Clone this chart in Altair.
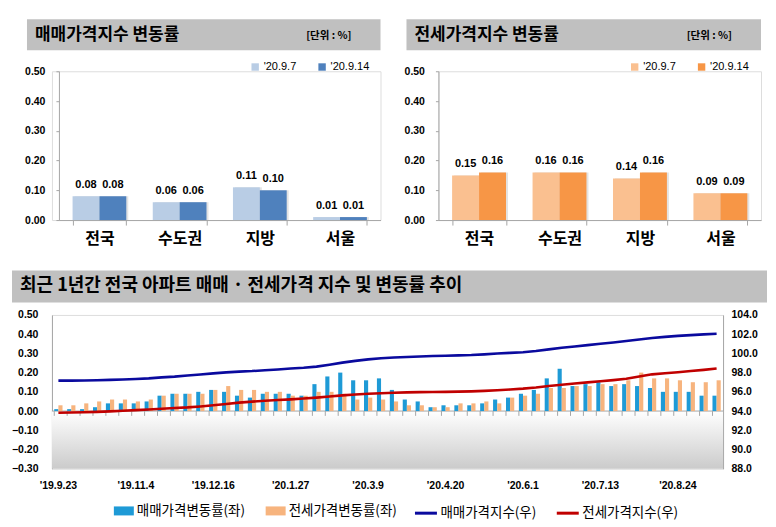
import altair as alt
import pandas as pd

# ---------------- data ----------------
REGIONS = ["전국", "수도권", "지방", "서울"]
WEEKS = ["'20.9.7", "'20.9.14"]
SALE_PREV = [0.08, 0.06, 0.11, 0.01]
SALE_CURR = [0.08, 0.06, 0.10, 0.01]
JEONSE_PREV = [0.15, 0.16, 0.14, 0.09]
JEONSE_CURR = [0.16, 0.16, 0.16, 0.09]

DATES = ["'19.9.23", "'19.9.30", "'19.10.7", "'19.10.14", "'19.10.21", "'19.10.28",
         "'19.11.4", "'19.11.11", "'19.11.18", "'19.11.25", "'19.12.2", "'19.12.9",
         "'19.12.16", "'19.12.23", "'19.12.30", "'20.1.6", "'20.1.13", "'20.1.20",
         "'20.1.27", "'20.2.3", "'20.2.10", "'20.2.17", "'20.2.24", "'20.3.2",
         "'20.3.9", "'20.3.16", "'20.3.23", "'20.3.30", "'20.4.6", "'20.4.13",
         "'20.4.20", "'20.4.27", "'20.5.4", "'20.5.11", "'20.5.18", "'20.5.25",
         "'20.6.1", "'20.6.8", "'20.6.15", "'20.6.22", "'20.6.29", "'20.7.6",
         "'20.7.13", "'20.7.20", "'20.7.27", "'20.8.3", "'20.8.10", "'20.8.17",
         "'20.8.24", "'20.8.31", "'20.9.7", "'20.9.14"]
TICK_DATES = ["'19.9.23", "'19.11.4", "'19.12.16", "'20.1.27", "'20.3.9",
              "'20.4.20", "'20.6.1", "'20.7.13", "'20.8.24"]

SALE_CHG = [0.01, 0.01, 0.01, 0.02, 0.04, 0.04, 0.04, 0.05, 0.08, 0.09,
            0.09, 0.10, 0.11, 0.10, 0.08, 0.07, 0.09, 0.09, 0.09, 0.08,
            0.14, 0.18, 0.20, 0.16, 0.16, 0.17, 0.11, 0.06, 0.05, 0.02,
            0.03, 0.03, 0.03, 0.04, 0.06, 0.07, 0.09, 0.11, 0.17, 0.22,
            0.13, 0.14, 0.15, 0.13, 0.14, 0.13, 0.12, 0.10, 0.10, 0.10,
            0.08, 0.08]
JEONSE_CHG = [0.03, 0.03, 0.04, 0.05, 0.06, 0.06, 0.05, 0.06, 0.08, 0.09,
              0.09, 0.09, 0.11, 0.13, 0.11, 0.11, 0.10, 0.10, 0.08, 0.08,
              0.10, 0.10, 0.09, 0.06, 0.07, 0.06, 0.05, 0.03, 0.03, 0.02,
              0.02, 0.04, 0.04, 0.05, 0.04, 0.07, 0.08, 0.09, 0.12, 0.12,
              0.13, 0.13, 0.14, 0.14, 0.16, 0.20, 0.17, 0.17, 0.16, 0.15,
              0.15, 0.16]
SALE_IDX = [97.17, 97.17, 97.18, 97.20, 97.24, 97.28, 97.33, 97.40, 97.50, 97.58,
            97.70, 97.80, 97.92, 98.02, 98.10, 98.16, 98.25, 98.33, 98.42, 98.50,
            98.62, 98.82, 99.04, 99.22, 99.38, 99.50, 99.57, 99.62, 99.68, 99.72,
            99.76, 99.79, 99.83, 99.90, 99.98, 100.05, 100.12, 100.24, 100.42, 100.58,
            100.72, 100.86, 101.00, 101.13, 101.28, 101.44, 101.60, 101.72, 101.82, 101.90,
            101.98, 102.05]
JEONSE_IDX = [93.83, 93.85, 93.87, 93.91, 93.97, 94.03, 94.10, 94.17, 94.24, 94.31,
              94.38, 94.48, 94.60, 94.74, 94.88, 94.98, 95.08, 95.15, 95.22, 95.30,
              95.40, 95.52, 95.63, 95.72, 95.80, 95.86, 95.90, 95.94, 95.97, 95.99,
              96.00, 96.02, 96.05, 96.10, 96.16, 96.24, 96.33, 96.45, 96.60, 96.73,
              96.86, 96.98, 97.10, 97.22, 97.36, 97.60, 97.82, 97.94, 98.04, 98.16,
              98.28, 98.42]

BAR_SERIES = ["매매가격변동률(좌)", "전세가격변동률(좌)"]
LINE_SERIES = ["매매가격지수(우)", "전세가격지수(우)"]

TITLE_SALE = "매매가격지수 변동률"
TITLE_JEONSE = "전세가격지수 변동률"
TITLE_TREND = "최근 1년간 전국 아파트 매매 · 전세가격 지수 및 변동률 추이"
UNIT = "[단위 : %]"

# ---------------- style ----------------
KR = "Noto Sans CJK KR"
NUM = "Liberation Sans"
GRAY = "#A6A6A6"
BOXGRAY = "#C0C0C0"
ONE = pd.DataFrame({"a": [0]})


def box_layers(x0, x1, y0, y1, text, size, unit=None, unit_x=None):
    layers = [
        alt.Chart(ONE).mark_rect(color=BOXGRAY).encode(
            x=alt.value(x0), x2=alt.value(x1), y=alt.value(y0), y2=alt.value(y1)),
        alt.Chart(pd.DataFrame({"t": [text]})).mark_text(
            align="left", baseline="middle", font=KR, fontSize=size, fontWeight="bold",
            color="#000").encode(x=alt.value(x0 + 8), y=alt.value((y0 + y1) / 2), text="t:N"),
    ]
    if unit:
        layers.append(alt.Chart(pd.DataFrame({"t": [unit]})).mark_text(
            align="right", baseline="middle", font=KR, fontSize=10.5, fontWeight="bold",
            color="#000").encode(x=alt.value(unit_x), y=alt.value((y0 + y1) / 2 + 1), text="t:N"))
    return layers


def top_panel(prev, curr, colors, title, width, inset=0):
    """inset: empty strip (px) left of the y axis inside the view."""
    df = pd.DataFrame({"region": REGIONS * 2,
                       "week": [WEEKS[0]] * 4 + [WEEKS[1]] * 4,
                       "value": prev + curr})
    pin, pout = 0.33, 0.17
    span = width - inset
    step = span / (len(REGIONS) - pin + 2 * pout)
    half = step * (1 - pin) / 2           # pixel width of one bar of the pair
    x = alt.X("region:N", sort=REGIONS,
              scale=alt.Scale(domain=REGIONS, range=[inset, width],
                              paddingInner=pin, paddingOuter=pout),
              axis=alt.Axis(title=None, labelAngle=0, labelFont=KR, labelFontSize=16,
                            labelFontWeight="bold", labelColor="#000", labelPadding=5,
                            domainColor=GRAY, tickColor=GRAY, tickSize=5, tickBand="extent"))
    y = alt.Y("value:Q", scale=alt.Scale(domain=[0, 0.5], nice=False),
              axis=alt.Axis(values=[0, 0.1, 0.2, 0.3, 0.4, 0.5], format=".2f", title=None,
                            grid=False, labelFont=NUM, labelFontSize=10.5, offset=-inset,
                            labelFontWeight="bold", labelColor="#000", domainColor=GRAY,
                            tickColor=GRAY, tickSize=3, labelPadding=11))
    color = alt.Color("week:N", sort=WEEKS, scale=alt.Scale(domain=WEEKS, range=colors),
                      legend=alt.Legend(title=None, orient="none", legendX=191 + inset,
                                        legendY=-10, direction="horizontal",
                                        symbolType="square", symbolSize=55,
                                        symbolStrokeWidth=0, labelFont=NUM, labelFontSize=11,
                                        labelColor="#000", labelOffset=3, columnPadding=20))
    layers = box_layers(inset - 32, width, -52, -21, title, 17, UNIT, width - 29)
    for wk, sign in zip(WEEKS, (-1, 1)):
        sub = alt.Chart(df).transform_filter(alt.datum.week == wk)
        layers.append(sub.mark_bar(width=half, xOffset=sign * half / 2 + 2, color="#7F7F7F",
                                   opacity=0.22).encode(x=x, y=y))
    for wk, sign in zip(WEEKS, (-1, 1)):
        sub = alt.Chart(df).transform_filter(alt.datum.week == wk)
        layers.append(sub.mark_bar(width=half, xOffset=sign * half / 2).encode(
            x=x, y=y, color=color))
        layers.append(sub.mark_text(baseline="bottom", dy=-6, dx=sign * half / 2, font=NUM,
                                    fontSize=11, fontWeight="bold", color="#000").encode(
            x=x, y=y, text=alt.Text("value:Q", format=".2f")))
    return alt.layer(*layers).properties(width=width, height=149)


def bottom_panel():
    W, H = 672, 154
    pin, pout = 0.36, 0.18
    step = W / (len(DATES) - pin + 2 * pout)
    half = step * (1 - pin) / 2
    bdf = pd.DataFrame({"date": DATES * 2,
                        "series": [BAR_SERIES[0]] * len(DATES) + [BAR_SERIES[1]] * len(DATES),
                        "value": SALE_CHG + JEONSE_CHG})
    ldf = pd.DataFrame({"date": DATES * 2,
                        "series": [LINE_SERIES[0]] * len(DATES) + [LINE_SERIES[1]] * len(DATES),
                        "value": SALE_IDX + JEONSE_IDX})
    ddf = pd.DataFrame({"date": DATES})

    def xscale():
        return alt.Scale(domain=DATES, paddingInner=pin, paddingOuter=pout)

    def yscale():
        return alt.Scale(domain=[-0.3, 0.5], nice=False)

    xaxis = alt.Axis(values=TICK_DATES, title=None, labelAngle=0, ticks=False,
                     domain=False, labelFont=NUM, labelFontSize=10.5,
                     labelFontWeight="bold", labelColor="#000", labelPadding=12)
    yaxis = alt.Axis(values=[-0.3, -0.2, -0.1, 0, 0.1, 0.2, 0.3, 0.4, 0.5],
                     format=".2f", title=None, grid=False, ticks=False,
                     labelFont=NUM, labelFontSize=10.5, labelFontWeight="bold",
                     labelColor="#000", domainColor=GRAY, labelPadding=14)

    grad = alt.Gradient(gradient="linear",
                        stops=[alt.GradientStop(color="#FFFFFF", offset=0),
                               alt.GradientStop(color="#CBCBCB", offset=1)],
                        x1=0, x2=0, y1=0, y2=1)
    bg = alt.Chart(ONE).mark_rect(fill=grad).encode(
        x=alt.value(0), x2=alt.value(W),
        y=alt.Y(datum=0, scale=yscale(), axis=None), y2=alt.Y2(datum=-0.3))

    zero = alt.Chart(ONE).mark_rule(color=GRAY, strokeWidth=1).encode(
        x=alt.value(0), x2=alt.value(W),
        y=alt.Y(datum=0, scale=yscale(), axis=None))

    ticks = alt.Chart(ddf).mark_rule(color=GRAY, strokeWidth=1).encode(
        x=alt.X("date:N", sort=DATES, scale=xscale(), bandPosition=0, axis=xaxis),
        y=alt.Y(datum=0, scale=yscale(), axis=None), y2=alt.Y2(datum=-0.025))

    color_b = alt.Color("series:N", sort=BAR_SERIES,
                        scale=alt.Scale(domain=BAR_SERIES, range=["#1E9AD6", "#F7B47E"]),
                        legend=alt.Legend(title=None, orient="none", legendX=62, legendY=186,
                                          direction="horizontal",
                                          symbolType="M-1,-0.45H1V0.45H-1Z", symbolSize=400,
                                          symbolStrokeWidth=0, labelFont=KR,
                                          labelFontSize=13.5, labelColor="#000",
                                          labelOffset=3, columnPadding=20))
    bar_layers = []
    for s, sign in zip(BAR_SERIES, (-1, 1)):
        bar_layers.append(alt.Chart(bdf).transform_filter(alt.datum.series == s)
                          .mark_bar(width=half, xOffset=sign * half / 2).encode(
            x=alt.X("date:N", sort=DATES, scale=xscale(), axis=xaxis),
            y=alt.Y("value:Q", scale=yscale(), axis=yaxis),
            color=color_b))
    bars = alt.layer(*bar_layers)

    lines = alt.Chart(ldf).mark_line(strokeWidth=2.6).encode(
        x=alt.X("date:N", sort=DATES, scale=xscale(), axis=xaxis),
        y=alt.Y("value:Q", scale=alt.Scale(domain=[88, 104], nice=False),
                axis=alt.Axis(orient="right", values=[88, 90, 92, 94, 96, 98, 100, 102, 104],
                              format=".1f", title=None, grid=False, ticks=False,
                              labelFont=NUM, labelFontSize=10.5, labelFontWeight="bold",
                              labelColor="#000", domainColor=GRAY, labelPadding=8)),
        color=alt.Color("series:N", sort=LINE_SERIES,
                        scale=alt.Scale(domain=LINE_SERIES, range=["#0A0A9E", "#C00000"]),
                        legend=alt.Legend(title=None, orient="none", legendX=362, legendY=186,
                                          direction="horizontal", symbolType="stroke",
                                          symbolSize=484, symbolStrokeWidth=3,
                                          labelFont=KR, labelFontSize=13.5, labelColor="#000",
                                          labelOffset=2, columnPadding=13)))

    layers = box_layers(-40, 716, -44.5, -12.5, TITLE_TREND, 18)
    return alt.layer(*layers, bg, zero, ticks, bars, lines).resolve_scale(
        y="independent", color="independent").properties(width=W, height=H)


left = top_panel(SALE_PREV, SALE_CURR, ["#B9CDE5", "#4F81BD"], TITLE_SALE, 329, inset=7)
right = top_panel(JEONSE_PREV, JEONSE_CURR, ["#FAC090", "#F79646"], TITLE_JEONSE, 323)
row1 = alt.hconcat(left, right, spacing=22).resolve_scale(color="independent")

chart = alt.vconcat(row1, bottom_panel(), spacing=23).resolve_scale(
    color="independent").properties(
    padding={"left": 2, "top": 10, "right": 0, "bottom": 0}
).configure_view(strokeWidth=0).configure(background="white")

chart.save("out.html", embed_options={"renderer": "svg", "actions": False})
